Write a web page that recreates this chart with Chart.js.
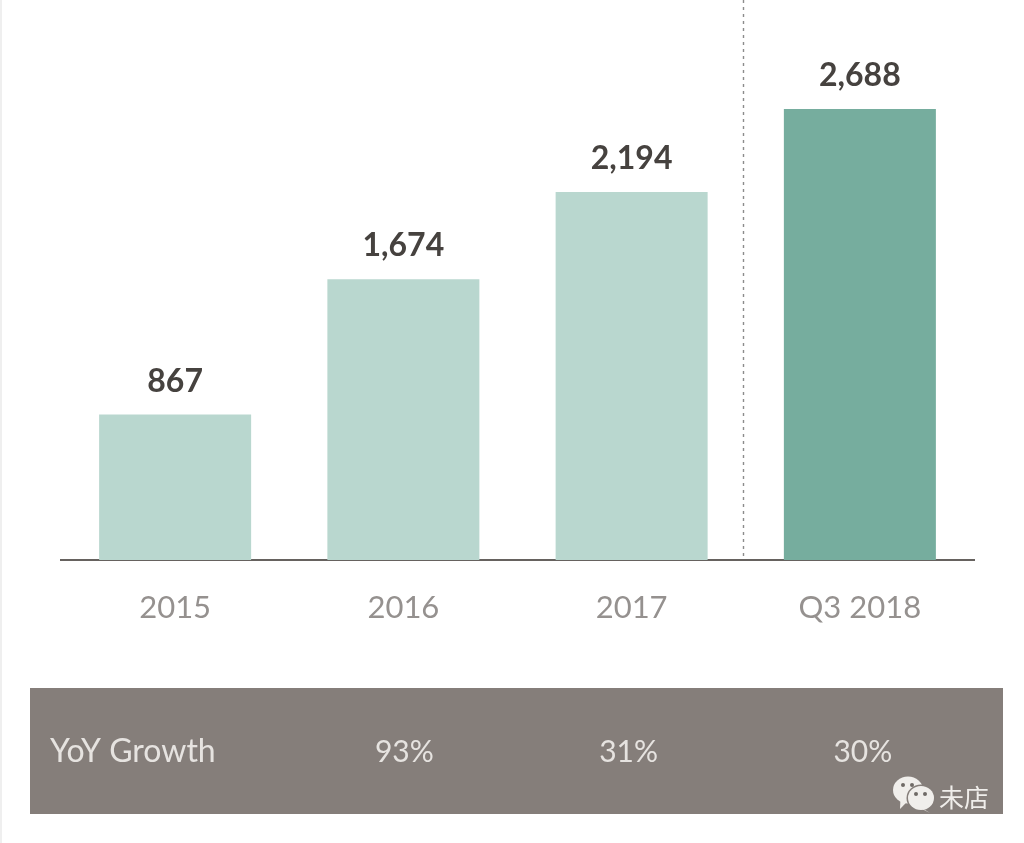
<!DOCTYPE html>
<html><head><meta charset="utf-8">
<script src="https://cdn.jsdelivr.net/npm/chart.js@4/dist/chart.umd.min.js"></script>
<style>html,body{margin:0;padding:0;background:#fff}canvas{display:block;filter:blur(0.5px)}</style>
</head><body><canvas id="c" width="1024" height="843"></canvas>
<script>
const categories = ['2015','2016','2017','Q3 2018'];
const values = [867,1674,2194,2688];
const valueLabels = ['867','1,674','2,194','2,688'];
const growthTitle = 'YoY Growth';
const growthLabels = ['93%','31%','30%'];
const barColors = ['#b9d7cf','#b9d7cf','#b9d7cf','#76ad9e'];
const watermark = '未店';

const overlay = {
  id:'overlay',
  afterDatasetsDraw(chart){
    const {ctx,scales:{x,y}} = chart;
    const meta = chart.getDatasetMeta(0);
    ctx.save();
    // left page edge
    ctx.fillStyle='#efefef'; ctx.fillRect(0,0,2,843);
    // value labels
    ctx.fillStyle='#46423f'; ctx.font='700 32px Lato'; ctx.textAlign='center'; ctx.textBaseline='middle';
    meta.data.forEach((b,i)=>ctx.fillText(valueLabels[i],b.x,b.y-33));
    // dashed divider
    const dx = Math.round((x.getPixelForValue(2)+x.getPixelForValue(3))/2)-2.5;
    ctx.strokeStyle='#8c8c8c'; ctx.lineWidth=1.4; ctx.setLineDash([3,4]);
    ctx.beginPath(); ctx.moveTo(dx,0); ctx.lineTo(dx,556); ctx.stroke(); ctx.setLineDash([]);
    // growth band
    ctx.fillStyle='#857e7a'; ctx.fillRect(30,688,973,126);
    ctx.fillStyle='#e6e3e0'; ctx.font='400 32px Lato'; ctx.textAlign='left';
    ctx.fillText(growthTitle,50,752);
    ctx.font='400 30px Lato'; ctx.textAlign='center';
    const shift=[1,-3,3];
    growthLabels.forEach((t,i)=>ctx.fillText(t,x.getPixelForValue(i+1)+shift[i],752));
    // watermark
    const bub=(cx,cy,rx,ry,tx,ty,col)=>{
      ctx.fillStyle=col;
      ctx.beginPath(); ctx.ellipse(cx,cy,rx,ry,0,0,Math.PI*2); ctx.fill();
      ctx.beginPath(); ctx.moveTo(cx-rx*.5,cy+ry*.6); ctx.lineTo(tx,ty); ctx.lineTo(cx,cy+ry*.8); ctx.fill();
    };
    bub(908,790,15,13.5,900,809,'#f0eeeb');
    ctx.fillStyle='#857e7a';
    ctx.beginPath(); ctx.ellipse(921,798,14.5,13.5,0,0,Math.PI*2); ctx.fill();
    bub(921,798,13,12,930,813,'#f0eeeb');
    ctx.fillStyle='#6f6a66';
    [[903,785],[912,785],[916,794],[925,794]].forEach(([a,b])=>{ctx.beginPath();ctx.arc(a,b,2,0,Math.PI*2);ctx.fill();});
    ctx.fillStyle='#f0eeeb'; ctx.font='400 25px "Noto Sans CJK SC"'; ctx.textAlign='left';
    ctx.fillText(watermark,939,797);
    ctx.restore();
  }
};

new Chart(document.getElementById('c'),{
  type:'bar',
  data:{labels:categories,datasets:[{data:values,backgroundColor:barColors,borderWidth:0,categoryPercentage:1,barPercentage:0.666}]},
  options:{
    responsive:false,animation:false,devicePixelRatio:1,
    layout:{padding:{left:61,right:50,top:0,bottom:0}},
    plugins:{legend:{display:false},tooltip:{enabled:false}},
    scales:{
      x:{
        grid:{display:false},
        border:{display:true,color:'#66625f',width:2},
        ticks:{color:'#95918f',font:{family:'Lato',size:31,weight:'400'},padding:21,maxRotation:0,autoSkip:false},
        afterFit(s){s.height=283;}
      },
      y:{display:false,min:0,max:3338}
    }
  },
  plugins:[overlay]
});
</script></body></html>
